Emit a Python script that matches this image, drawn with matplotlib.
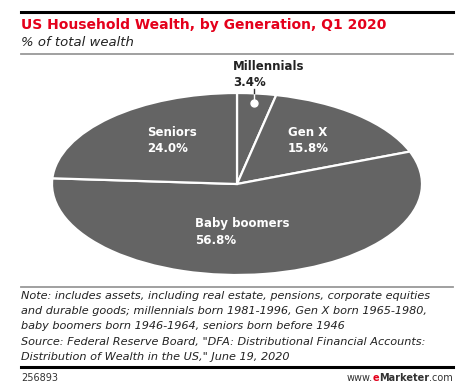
import matplotlib
matplotlib.use("Agg")
import matplotlib.pyplot as plt
from matplotlib.lines import Line2D

categories = ["Millennials", "Gen X", "Baby boomers", "Seniors"]
values = [3.4, 15.8, 56.8, 24.0]

W, H = 467, 389
fig = plt.figure(figsize=(W / 100, H / 100), dpi=100)
fig.patch.set_facecolor("white")

def fx(px):
    return px / W

def fy(py):
    return 1 - py / H

# pie axes (ellipse)
cx, cy, rx, ry = 237, 184, 185, 91
ax = fig.add_axes([fx(cx - rx), fy(cy + ry), 2 * rx / W, 2 * ry / H])
wedges, _ = ax.pie(values, startangle=90, counterclock=False, colors=["#646464"] * 4,
                   wedgeprops=dict(edgecolor="white", linewidth=1.6))
ax.set_aspect("auto")
ax.set_xlim(-1, 1)
ax.set_ylim(-1, 1)
ax.axis("off")

def dx(px):
    return (px - cx) / rx

def dy(py):
    return (cy - py) / ry

label_font = dict(fontsize=8.5, fontweight="bold", family="DejaVu Sans", va="center", ha="left")
# label anchor points (pixel, left edge / line-1 centre)
label_pos = {"Millennials": (233, 67), "Gen X": (288, 133), "Baby boomers": (195, 224), "Seniors": (147, 132)}
for cat, val in zip(categories, values):
    px, py = label_pos[cat]
    col = "#222222" if cat == "Millennials" else "white"
    ax.text(dx(px), dy(py), cat, color=col, clip_on=False, **label_font)
    ax.text(dx(px), dy(py + 16), f"{val:.1f}%", color=col, clip_on=False, **label_font)

# callout for millennials
ax.plot([dx(254), dx(254)], [dy(103), dy(89)], color="white", lw=1, clip_on=False)
ax.plot([dx(254), dx(254)], [dy(93), dy(89)], color="#333333", lw=1, clip_on=False)
ax.plot([dx(254)], [dy(103)], "o", color="white", ms=5, clip_on=False)

# header rules
fig.add_artist(Line2D([fx(21), fx(453)], [fy(12), fy(12)], color="black", lw=2.2))
fig.add_artist(Line2D([fx(21), fx(453)], [fy(54), fy(54)], color="#999999", lw=1.3))
fig.text(fx(21), fy(25), "US Household Wealth, by Generation, Q1 2020", color="#e4001b",
         fontsize=10, fontweight="bold", family="DejaVu Sans", va="center", ha="left")
fig.text(fx(21), fy(43), "% of total wealth", color="#222222", fontsize=9.5, style="italic",
         family="DejaVu Sans", va="center", ha="left")

# footer
fig.add_artist(Line2D([fx(21), fx(453)], [fy(287), fy(287)], color="#999999", lw=1.3))
notes = [
    "Note: includes assets, including real estate, pensions, corporate equities",
    "and durable goods; millennials born 1981-1996, Gen X born 1965-1980,",
    "baby boomers born 1946-1964, seniors born before 1946",
    "Source: Federal Reserve Board, \"DFA: Distributional Financial Accounts:",
    "Distribution of Wealth in the US,\" June 19, 2020",
]
for i, line in enumerate(notes):
    fig.text(fx(21), fy(296 + i * 15.2), line, color="#222222", fontsize=8.15, style="italic",
             family="DejaVu Sans", va="center", ha="left")
fig.add_artist(Line2D([fx(21), fx(453)], [fy(367), fy(367)], color="black", lw=2.2))
fig.text(fx(21), fy(378), "256893", color="#333333", fontsize=7, family="DejaVu Sans",
         va="center", ha="left")
t1 = fig.text(fx(453), fy(378), ".com", color="#333333", fontsize=7, family="DejaVu Sans",
              va="center", ha="right")
fig.canvas.draw()
r = fig.canvas.get_renderer()
bb = t1.get_window_extent(r)
t2 = fig.text(bb.x0 / W, fy(378), "Marketer", color="#333333", fontsize=7, fontweight="bold",
              family="DejaVu Sans", va="center", ha="right")
bb = t2.get_window_extent(r)
t3 = fig.text(bb.x0 / W, fy(378), "e", color="#e4001b", fontsize=7, fontweight="bold",
              family="DejaVu Sans", va="center", ha="right")
bb = t3.get_window_extent(r)
fig.text(bb.x0 / W, fy(378), "www.", color="#333333", fontsize=7, family="DejaVu Sans",
         va="center", ha="right")

fig.savefig("out.png", dpi=100)
